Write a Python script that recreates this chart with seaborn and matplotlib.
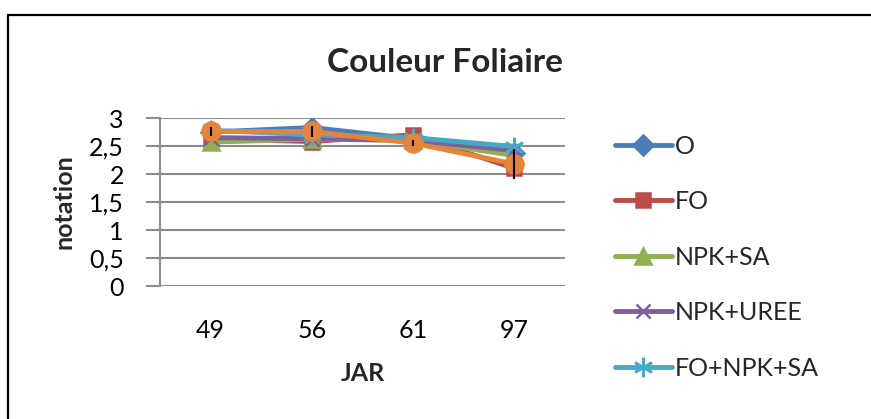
import matplotlib
matplotlib.use("Agg")
import matplotlib.pyplot as plt
import matplotlib.patches as mpatches
import matplotlib.ticker as mticker
import pandas as pd
import seaborn as sns

# ─── Données ──────────────────────────────────────────────────────────────────
JAR = ["49", "56", "61", "97"]
O = [2.75, 2.83, 2.63, 2.38]
FO = [2.62, 2.58, 2.70, 2.10]
NPK_SA = [2.57, 2.62, 2.60, 2.33]
NPK_UREE = [2.65, 2.63, 2.60, 2.42]
FO_NPK_SA = [2.78, 2.70, 2.65, 2.49]
MOYENNE = [2.76, 2.76, 2.55, 2.18]
ERREUR = [0.08, 0.10, 0.05, 0.27]

SERIES = [
    ("O",         O,         "#4A7EBB", "D",       10),
    ("FO",        FO,        "#BE4B48", "s",       10),
    ("NPK+SA",    NPK_SA,    "#8FB04E", "^",       11),
    ("NPK+UREE",  NPK_UREE,  "#7D5FA0", "x",       10),
    ("FO+NPK+SA", FO_NPK_SA, "#46AAC5", (6, 2, 0), 14),
]
ORANGE = "#E6843A"

sns.set_theme(style="white")
FONT = ["Lato", "DejaVu Sans"]
plt.rcParams["font.family"] = FONT

fig = plt.figure(figsize=(8.71, 4.19), dpi=100)
ax = fig.add_axes([160 / 871, 1 - 286 / 419, 405 / 871, 168 / 419])

for name, vals, color, marker, ms in SERIES:
    df = pd.DataFrame({"JAR": JAR, "val": vals})
    sns.lineplot(data=df, x="JAR", y="val", ax=ax, color=color, linewidth=3.5,
                 marker=marker, markersize=ms, markeredgecolor=color,
                 markeredgewidth=1.8, label=name, sort=False)

df_m = pd.DataFrame({"JAR": JAR, "val": MOYENNE})
sns.lineplot(data=df_m, x="JAR", y="val", ax=ax, color=ORANGE, linewidth=3.5,
             marker="o", markersize=14, markeredgecolor=ORANGE, legend=False, sort=False)
ax.errorbar(range(len(JAR)), MOYENNE, yerr=ERREUR, fmt="none", ecolor="black",
            elinewidth=1.5, capsize=0, zorder=5)

ax.set_xlim(-0.5, 3.5)
ax.set_ylim(0, 3)
ax.yaxis.set_major_locator(mticker.MultipleLocator(0.5))
ax.yaxis.set_major_formatter(mticker.FuncFormatter(lambda v, p: f"{v:g}".replace(".", ",")))
ax.grid(axis="y", color="#8C8C8C", linewidth=1.5)
ax.set_axisbelow(True)
for s in ["top", "right", "bottom"]:
    ax.spines[s].set_visible(False)
ax.spines["left"].set_color("#8C8C8C")
ax.spines["left"].set_linewidth(1.5)
ax.tick_params(axis="y", left=True, length=10, width=1.5, color="#8C8C8C",
               labelsize=18, pad=16)
ax.tick_params(axis="x", bottom=False, labelsize=18, pad=18)
for lbl in ax.get_yticklabels() + ax.get_xticklabels():
    lbl.set_color("black")

ax.set_xlabel("JAR", fontsize=18, fontweight="bold", labelpad=14)
ax.set_ylabel("notation", fontsize=18, fontweight="bold", labelpad=10)
fig.text(445 / 871, 1 - 62 / 419, "Couleur Foliaire", fontsize=24, fontweight="bold",
         ha="center", va="center")

handles, labels = ax.get_legend_handles_labels()
ax.legend(handles, labels, loc="upper left", bbox_to_anchor=(602 / 871, 1 - 122 / 419),
          bbox_transform=fig.transFigure, frameon=False, fontsize=18,
          handlelength=2.3, handletextpad=0.12, labelspacing=1.3, borderpad=0)

# cadre extérieur
fig.patches.append(mpatches.Rectangle((8 / 871, -0.1), 1.2, 1 - 15 / 419 + 0.1,
                                      transform=fig.transFigure, fill=False,
                                      edgecolor="black", linewidth=1.6))

fig.savefig("out.png", dpi=100)
